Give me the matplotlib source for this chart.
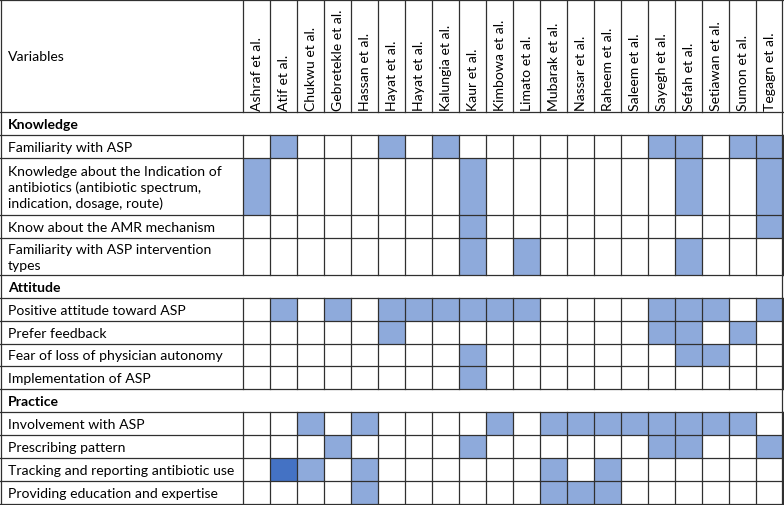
import matplotlib.pyplot as plt
from matplotlib.patches import Rectangle

studies = ['Ashraf et al.', 'Atif et al.', 'Chukwu et al.', 'Gebretekle et al.',
           'Hassan et al.', 'Hayat et al.', 'Hayat et al.', 'Kalungia et al.',
           'Kaur et al.', 'Kimbowa et al.', 'Limato et al.', 'Mubarak et al.',
           'Nassar et al.', 'Raheem et al.', 'Saleem et al.', 'Sayegh et al.',
           'Sefah et al.', 'Setiawan et al.', 'Sumon et al.', 'Tegagn et al.']

# (label, is_section)
rows = [
    ('Knowledge', True),
    ('Familiarity with ASP', False),
    ('Knowledge about the Indication of\nantibiotics (antibiotic spectrum,\nindication, dosage, route)', False),
    ('Know about the AMR mechanism', False),
    ('Familiarity with ASP intervention\ntypes', False),
    ('Attitude', True),
    ('Positive attitude toward ASP', False),
    ('Prefer feedback', False),
    ('Fear of loss of physician autonomy', False),
    ('Implementation of ASP', False),
    ('Practice', True),
    ('Involvement with ASP', False),
    ('Prescribing pattern', False),
    ('Tracking and reporting antibiotic use', False),
    ('Providing education and expertise', False),
]

# study indices that report each variable (section rows empty)
marks = [
    [],
    [1, 5, 7, 15, 16, 18, 19],
    [0, 8, 16, 19],
    [8, 19],
    [8, 10, 16],
    [],
    [1, 3, 5, 6, 7, 8, 9, 10, 15, 16, 17, 19],
    [5, 15, 16, 18],
    [8, 16, 17],
    [8],
    [],
    [2, 4, 9, 11, 12, 13, 14, 15, 16, 17, 18],
    [3, 8, 15, 16, 19],
    [1, 2, 4, 11, 13],
    [4, 11, 12, 13],
]
# cells shaded darker (row, study)
dark = [(13, 1)]

W, H = 784, 506
header_h = 113
row_h = [23, 23, 57, 23, 37, 23, 23, 23, 22, 23, 23, 23, 23, 23, 23]
label_w = 243
col_w = 27

light_c = '#8eaadb'
dark_c = '#4472c4'
line_c = '#303030'

plt.rcParams['font.family'] = ['Lato', 'DejaVu Sans']
fig = plt.figure(figsize=(W / 100, H / 100), dpi=100)
ax = fig.add_axes([0, 0, 1, 1])
ax.set_xlim(0, W)
ax.set_ylim(H, 0)
ax.axis('off')

fs = 10.1
right = label_w + col_w * len(studies)

# header
ax.text(8, header_h / 2, 'Variables', fontsize=fs, va='center', ha='left')
for i, s in enumerate(studies):
    ax.text(label_w + col_w * (i + 0.5) + 1, header_h - 2, s, rotation=90,
            fontsize=fs, ha='center', va='bottom')
    ax.plot([label_w + col_w * i] * 2, [0, header_h], color=line_c, lw=0.9)

y = header_h
for r, ((label, section), h) in enumerate(zip(rows, row_h)):
    if not section:
        for c in marks[r]:
            col = dark_c if (r, c) in dark else light_c
            ax.add_patch(Rectangle((label_w + col_w * c, y), col_w, h,
                                   facecolor=col, edgecolor='none'))
        for i in range(len(studies) + 1):
            ax.plot([label_w + col_w * i] * 2, [y, y + h], color=line_c, lw=0.9)
    ax.text(8, y + h / 2 + 0.5, label, fontsize=fs, va='center', ha='left',
            linespacing=1.36, fontweight='bold' if section else 'normal')
    ax.plot([0, right], [y, y], color=line_c, lw=0.9)
    y += h

ax.plot([0, right], [y - 0.5, y - 0.5], color=line_c, lw=0.9)
ax.plot([0, right], [0.5, 0.5], color=line_c, lw=0.9)
ax.plot([0.5, 0.5], [0, H], color=line_c, lw=0.9)
ax.plot([right - 0.5, right - 0.5], [0, H], color=line_c, lw=0.9)

fig.savefig('out.png', dpi=100)
